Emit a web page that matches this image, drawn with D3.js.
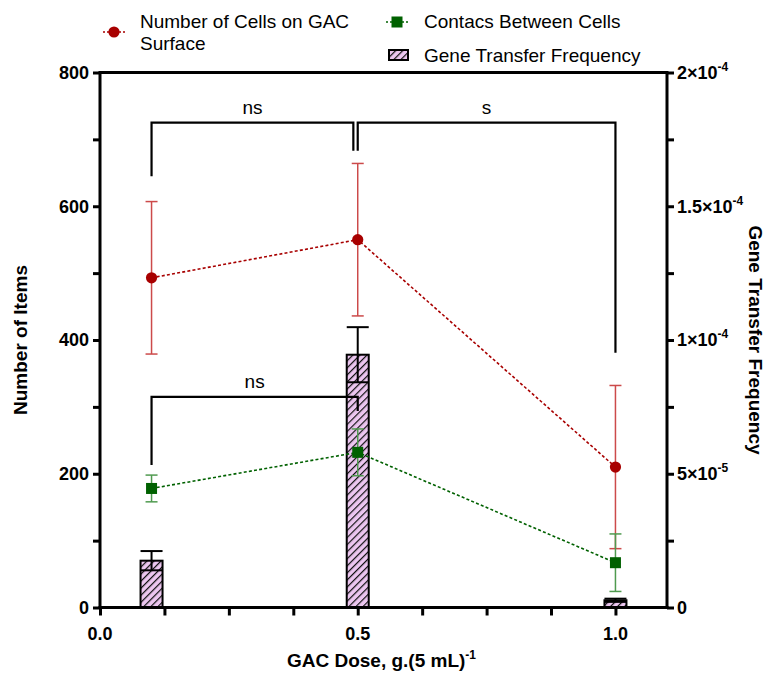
<!DOCTYPE html>
<html><head><meta charset="utf-8">
<script src="https://cdn.jsdelivr.net/npm/d3@7"></script>
<style>
html,body{margin:0;padding:0;background:#fff;}
text{font-family:"Liberation Sans",Arial,sans-serif;}
</style></head>
<body><svg id="c" width="771" height="675"></svg>
<script>
// ---------- data ----------
const doses = [0.1, 0.5, 1.0];
const cellsMean = [493, 550, 210];
const cellsSD = [114, 114, 122];
const contactsMean = [178, 232, 67];
const contactsSD = [20, 35, 43];
const gtfMean = [1.75e-5, 9.45e-5, 2.7e-6];
const gtfSD = [0.36e-5, 1.03e-5, 0.6e-6];
const xTicks = [0.0, 0.5, 1.0];
const xTickLabels = ["0.0", "0.5", "1.0"];
const yLeftTicks = [0, 200, 400, 600, 800];
const yRightTicks = [0, 5e-5, 1e-4, 1.5e-4, 2e-4];
const yRightLabels = [["0", ""], ["5×10", "-5"], ["1×10", "-4"], ["1.5×10", "-4"], ["2×10", "-4"]];
// significance brackets (left-axis units)
const bracketLabels = ["ns", "s", "ns"];
const bracketX1 = [0.1, 0.5, 0.1];
const bracketX2 = [0.4915, 1.0, 0.5];
const bracketTop = [725, 725, 315];
const bracketLeftEnd = [645, 683, 213];
const bracketRightEnd = [683, 381, 294];

// ---------- layout ----------
const svg = d3.select("#c");
const L = 100, R = 667, T = 72.5, B = 607.5;
const x = d3.scaleLinear().domain([0, 1.1]).range([L, R]);
const yL = d3.scaleLinear().domain([0, 800]).range([B, T]);
const yR = d3.scaleLinear().domain([0, 2e-4]).range([B, T]);
const FONT = '"Liberation Sans",Arial,sans-serif';
const red = "#a80000", redErr = "#cc4a4a", green = "#006100", greenErr = "#4f9a4f";

const defs = svg.append("defs");
const pat = defs.append("pattern").attr("id", "hatch").attr("patternUnits", "userSpaceOnUse")
  .attr("width", 5).attr("height", 5).attr("patternTransform", "rotate(45)");
pat.append("rect").attr("width", 5).attr("height", 5).attr("fill", "#ecc6f0");
pat.append("line").attr("x1", 0).attr("y1", 0).attr("x2", 0).attr("y2", 5)
  .attr("stroke", "#111").attr("stroke-width", 2.4);

// ---------- bars ----------
const barW = 22;
const gB = svg.append("g");
doses.forEach((d, i) => {
  gB.append("rect").attr("x", x(d) - barW / 2).attr("y", yR(gtfMean[i]))
    .attr("width", barW).attr("height", B - yR(gtfMean[i]))
    .attr("fill", "url(#hatch)").attr("stroke", "#000").attr("stroke-width", 2);
  const up = yR(gtfMean[i] + gtfSD[i]), lo = yR(gtfMean[i] - gtfSD[i]);
  gB.append("line").attr("x1", x(d)).attr("x2", x(d)).attr("y1", up).attr("y2", lo)
    .attr("stroke", "#000").attr("stroke-width", 2);
  [up, lo].forEach(yy => gB.append("line").attr("x1", x(d) - barW / 2).attr("x2", x(d) + barW / 2)
    .attr("y1", yy).attr("y2", yy).attr("stroke", "#000").attr("stroke-width", 2));
});

// ---------- series ----------
function series(mean, sd, col, ecol, shape) {
  const g = svg.append("g");
  const pts = doses.map((d, i) => [x(d), yL(mean[i])]);
  g.append("path").attr("d", d3.line()(pts)).attr("fill", "none")
    .attr("stroke", col).attr("stroke-width", 1.6).attr("stroke-dasharray", "3,2.2");
  doses.forEach((d, i) => {
    const up = yL(mean[i] + sd[i]), lo = yL(mean[i] - sd[i]);
    g.append("line").attr("x1", x(d)).attr("x2", x(d)).attr("y1", up).attr("y2", lo)
      .attr("stroke", ecol).attr("stroke-width", 1.5);
    [up, lo].forEach(yy => g.append("line").attr("x1", x(d) - 6).attr("x2", x(d) + 6)
      .attr("y1", yy).attr("y2", yy).attr("stroke", ecol).attr("stroke-width", 1.5));
  });
  doses.forEach((d, i) => {
    if (shape === "circle") g.append("circle").attr("cx", x(d)).attr("cy", yL(mean[i])).attr("r", 5.6).attr("fill", col);
    else g.append("rect").attr("x", x(d) - 5.5).attr("y", yL(mean[i]) - 5.5).attr("width", 11).attr("height", 11).attr("fill", col);
  });
}
series(cellsMean, cellsSD, red, redErr, "circle");
series(contactsMean, contactsSD, green, greenErr, "square");

// ---------- brackets ----------
bracketLabels.forEach((lab, i) => {
  const x1 = x(bracketX1[i]), x2 = x(bracketX2[i]);
  svg.append("path").attr("d", `M${x1},${yL(bracketLeftEnd[i])}V${yL(bracketTop[i])}H${x2}V${yL(bracketRightEnd[i])}`)
    .attr("fill", "none").attr("stroke", "#000").attr("stroke-width", 2.2);
  svg.append("text").attr("x", (x1 + x2) / 2).attr("y", yL(bracketTop[i]) - 9)
    .attr("text-anchor", "middle").attr("font-size", 19).text(lab);
});

// ---------- axes ----------
const ax = svg.append("g").attr("font-family", FONT);
// frame
ax.append("path").attr("d", `M${L},${B}V${T}H${R}V${B}`).attr("fill", "none").attr("stroke", "#000").attr("stroke-width", 3);
ax.append("line").attr("x1", L - 1.5).attr("x2", R + 1.5).attr("y1", B).attr("y2", B).attr("stroke", "#000").attr("stroke-width", 3);

// x axis
const gx = ax.append("g").attr("transform", `translate(0,${B})`)
  .call(d3.axisBottom(x).tickValues(d3.range(0, 1.1001, 0.125)).tickSize(8).tickFormat(""));
gx.select(".domain").remove();
gx.selectAll("line").attr("stroke-width", 3);
xTicks.forEach((t, i) => ax.append("text").attr("x", x(t)).attr("y", B + 32)
  .attr("text-anchor", "middle").attr("font-size", 18).attr("font-weight", "bold").text(xTickLabels[i]));

// left axis
const gl = ax.append("g").attr("transform", `translate(${L},0)`)
  .call(d3.axisLeft(yL).tickValues(d3.range(0, 801, 100)).tickSize(7).tickFormat(""));
gl.select(".domain").remove();
gl.selectAll("line").attr("stroke-width", 3);
yLeftTicks.forEach(t => ax.append("text").attr("x", L - 11).attr("y", yL(t)).attr("dy", "0.36em")
  .attr("text-anchor", "end").attr("font-size", 18).attr("font-weight", "bold").text(t));

// right axis
const gr = ax.append("g").attr("transform", `translate(${R},0)`)
  .call(d3.axisRight(yR).tickValues(d3.range(0, 8.5).map(k => k * 2.5e-5)).tickSize(7).tickFormat(""));
gr.select(".domain").remove();
gr.selectAll("line").attr("stroke-width", 3);
yRightTicks.forEach((t, i) => {
  const tx = ax.append("text").attr("x", R + 10).attr("y", yR(t)).attr("dy", "0.36em")
    .attr("font-size", 18).attr("font-weight", "bold");
  tx.append("tspan").text(yRightLabels[i][0]);
  if (yRightLabels[i][1]) tx.append("tspan").attr("dy", -8).attr("font-size", 12).text(yRightLabels[i][1]);
});

// axis titles
const xt = ax.append("text").attr("x", (L + R) / 2 - 2).attr("y", 667).attr("text-anchor", "middle")
  .attr("font-size", 19).attr("font-weight", "bold");
xt.append("tspan").text("GAC Dose, g.(5 mL)");
xt.append("tspan").attr("dy", -8).attr("font-size", 12).text("-1");
ax.append("text").attr("transform", `translate(27,${(T + B) / 2}) rotate(-90)`).attr("text-anchor", "middle")
  .attr("font-size", 19).attr("font-weight", "bold").text("Number of Items");
ax.append("text").attr("transform", `translate(749,${(T + B) / 2}) rotate(90)`).attr("text-anchor", "middle")
  .attr("font-size", 19).attr("font-weight", "bold").text("Gene Transfer Frequency");

// ---------- legend ----------
const lg = svg.append("g").attr("font-family", FONT).attr("font-size", 19);
lg.append("line").attr("x1", 103).attr("x2", 125).attr("y1", 32).attr("y2", 32)
  .attr("stroke", red).attr("stroke-width", 1.6).attr("stroke-dasharray", "2,2");
lg.append("circle").attr("cx", 114).attr("cy", 32).attr("r", 5.6).attr("fill", red);
lg.append("text").attr("x", 140).attr("y", 28).text("Number of Cells on GAC");
lg.append("text").attr("x", 140).attr("y", 50).text("Surface");
lg.append("line").attr("x1", 386).attr("x2", 408).attr("y1", 22).attr("y2", 22)
  .attr("stroke", green).attr("stroke-width", 1.6).attr("stroke-dasharray", "2,2");
lg.append("rect").attr("x", 391.5).attr("y", 16.5).attr("width", 11).attr("height", 11).attr("fill", green);
lg.append("text").attr("x", 424).attr("y", 28).text("Contacs Between Cells");
lg.append("rect").attr("x", 389).attr("y", 50).attr("width", 19).attr("height", 10)
  .attr("fill", "url(#hatch)").attr("stroke", "#000").attr("stroke-width", 2);
lg.append("text").attr("x", 424).attr("y", 62).text("Gene Transfer Frequency");
</script></body></html>
